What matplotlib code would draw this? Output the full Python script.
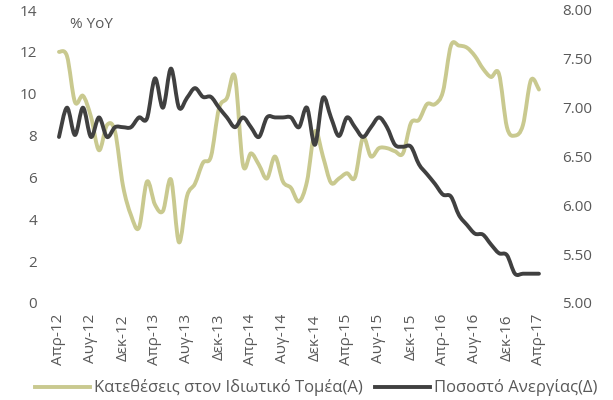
import matplotlib
matplotlib.use("Agg")
import matplotlib.pyplot as plt
from matplotlib.path import Path
from matplotlib.patches import PathPatch
from matplotlib.lines import Line2D

# monthly observations, Apr-12 .. Apr-17
deposits = [12.0, 11.8, 9.6, 9.9, 8.9, 7.3, 8.5, 8.2, 5.6, 4.2,
            3.6, 5.8, 4.7, 4.4, 5.9, 2.9, 5.1, 5.7, 6.7, 7.0,
            9.3, 9.8, 10.8, 6.6, 7.15, 6.6, 5.95, 7.0, 5.8, 5.5,
            4.85, 5.8, 8.2, 7.0, 5.75, 5.95, 6.2, 6.0, 7.9, 7.0,
            7.4, 7.4, 7.25, 7.15, 8.6, 8.75, 9.5, 9.5, 10.1, 12.3,
            12.3, 12.2, 11.8, 11.2, 10.8, 10.95, 8.4, 8.0, 8.5, 10.65,
            10.2]
unemployment = [6.70, 7.00, 6.72, 7.00, 6.70, 6.90, 6.70, 6.80, 6.80, 6.80,
                6.90, 6.89, 7.30, 7.00, 7.40, 7.00, 7.10, 7.20, 7.11, 7.11,
                7.00, 6.90, 6.80, 6.90, 6.80, 6.70, 6.90, 6.90, 6.90, 6.90,
                6.80, 7.00, 6.62, 7.10, 6.90, 6.71, 6.90, 6.80, 6.70, 6.80,
                6.90, 6.80, 6.62, 6.60, 6.60, 6.42, 6.32, 6.22, 6.11, 6.09,
                5.90, 5.80, 5.71, 5.70, 5.60, 5.51, 5.49, 5.30, 5.30, 5.30,
                5.30]
tick_labels = ['Απρ-12', 'Αυγ-12', 'Δεκ-12', 'Απρ-13', 'Αυγ-13', 'Δεκ-13',
               'Απρ-14', 'Αυγ-14', 'Δεκ-14', 'Απρ-15', 'Αυγ-15', 'Δεκ-15',
               'Απρ-16', 'Αυγ-16', 'Δεκ-16', 'Απρ-17']
left_ticks = [0, 2, 4, 6, 8, 10, 12, 14]
right_ticks = [5.0, 5.5, 6.0, 6.5, 7.0, 7.5, 8.0]

OLIVE = '#C9C98F'
DARK = '#404040'
TXT = '#595959'

plt.rcParams['font.family'] = ['Open Sans', 'DejaVu Sans']


def smooth_path(xs, ys, k=1/6):
    """Bezier path through the points (Excel-style smoothed line)"""
    pts = list(zip(xs, ys))
    verts = [pts[0]]
    codes = [Path.MOVETO]
    n = len(pts)
    for i in range(n - 1):
        p0 = pts[max(i - 1, 0)]
        p1 = pts[i]
        p2 = pts[i + 1]
        p3 = pts[min(i + 2, n - 1)]
        c1 = (p1[0] + (p2[0] - p0[0]) * k, p1[1] + (p2[1] - p0[1]) * k)
        c2 = (p2[0] - (p3[0] - p1[0]) * k, p2[1] - (p3[1] - p1[1]) * k)
        verts += [c1, c2, p2]
        codes += [Path.CURVE4] * 3
    return Path(verts, codes)


fig = plt.figure(figsize=(6.13, 4.0), dpi=100)
ax = fig.add_axes([0.0897, 0.2425, 0.796, 0.7325])
ax2 = ax.twinx()

x = list(range(len(deposits)))
ax.add_patch(PathPatch(smooth_path(x, deposits), facecolor='none', edgecolor=OLIVE,
                       lw=2.8, capstyle='round', joinstyle='round'))
ax2.add_patch(PathPatch(smooth_path(x, unemployment), facecolor='none', edgecolor=DARK,
                        lw=2.8, capstyle='round', joinstyle='round'))

ax.set_xlim(-0.5, len(x) - 0.5)
ax.set_ylim(0, 14)
ax2.set_ylim(5, 8)
ax.set_xticks(range(0, len(x), 4))
ax.set_xticklabels(tick_labels, rotation=90)
ax.set_yticks(left_ticks)
ax2.set_yticks(right_ticks)
ax2.set_yticklabels([f'{v:.2f}' for v in right_ticks])

for a in (ax, ax2):
    for s in a.spines.values():
        s.set_visible(False)
    a.tick_params(length=0, labelsize=11, colors=TXT)
ax.tick_params(axis='y', pad=13)
ax2.tick_params(axis='y', pad=14)
ax.tick_params(axis='x', pad=8)

ax.text(0.031, 0.952, '% YoY', transform=ax.transAxes, fontsize=11, color=TXT,
        ha='left', va='center')

handles = [Line2D([], [], color=OLIVE, lw=2.8),
           Line2D([], [], color=DARK, lw=2.8)]
fig.legend(handles, ['Κατεθέσεις στον Ιδιωτικό Τομέα(Α)', 'Ποσοστό Ανεργίας(Δ)'],
           loc='center', bbox_to_anchor=(0.516, 0.03), ncol=2, frameon=False,
           fontsize=12, labelcolor=TXT, handlelength=3.3, handletextpad=0.25,
           columnspacing=0.7)

fig.savefig('out.png', dpi=100)
